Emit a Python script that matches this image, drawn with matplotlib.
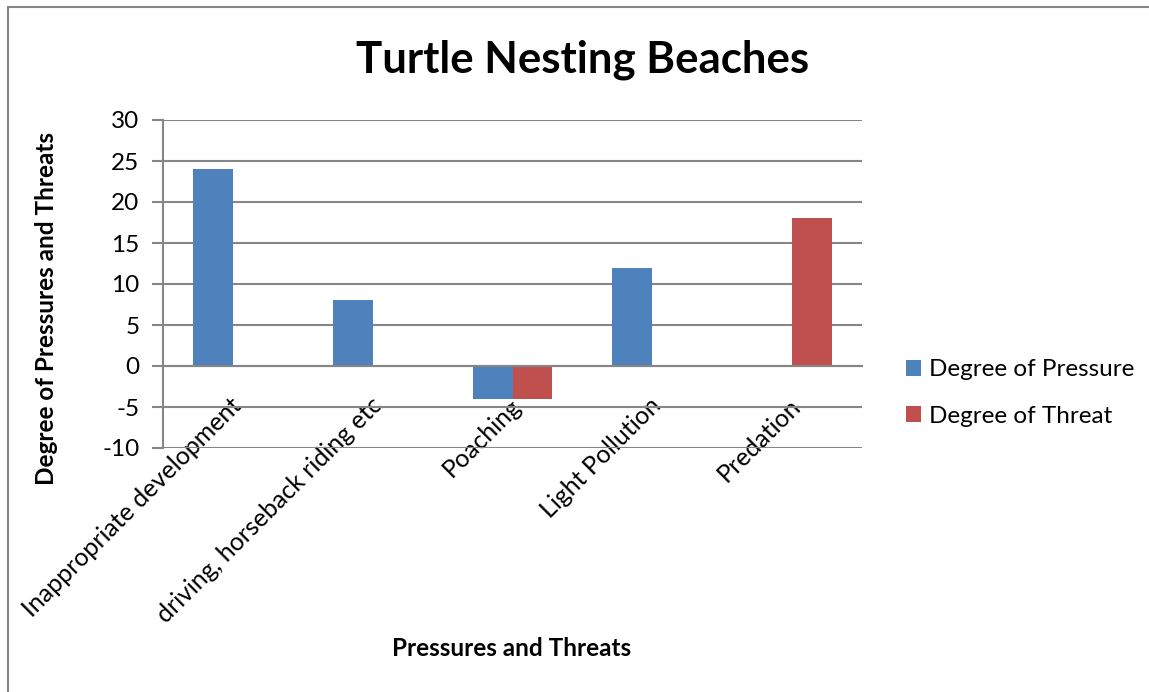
import matplotlib.pyplot as plt
import matplotlib.patches as patches
from matplotlib.transforms import ScaledTranslation
import numpy as np

plt.rcParams['font.family'] = ['Lato', 'DejaVu Sans']
plt.rcParams['axes.unicode_minus'] = False

categories = ['Inappropriate development', 'driving, horseback riding etc',
              'Poaching', 'Light Pollution', 'Predation']
pressure = [24, 8, -4, 12, 0]
threat = [0, 0, -4, 0, 18]
yticks = [-10, -5, 0, 5, 10, 15, 20, 25, 30]

blue = '#4F81BD'
red = '#C0504D'
grid = '#868686'

fig = plt.figure(figsize=(11.49, 6.92), dpi=100)
ax = fig.add_axes([163/1149, 1 - 448/692, 699/1149, 328/692])

x = np.arange(len(categories))
w = 0.286
ax.bar(x - w/2, pressure, w, color=blue, label='Degree of Pressure', zorder=3)
ax.bar(x + w/2, threat, w, color=red, label='Degree of Threat', zorder=3)

ax.set_xlim(-0.5, len(categories) - 0.5)
ax.set_ylim(-10, 30)
ax.set_yticks(yticks)
ax.tick_params(axis='y', length=8, width=1.5, color=grid, pad=9, labelsize=17.5)
ax.yaxis.grid(True, color=grid, linewidth=1.5, zorder=0)
ax.set_axisbelow(True)

# x axis crosses at zero like the excel chart
ax.spines['bottom'].set_position(('data', 0))
ax.spines['bottom'].set_color(grid)
ax.spines['bottom'].set_linewidth(1.5)
ax.spines['bottom'].set_zorder(4)
ax.spines['left'].set_color(grid)
ax.spines['left'].set_linewidth(1.5)
ax.spines['top'].set_visible(False)
ax.spines['right'].set_visible(False)

ax.set_xticks(x)
ax.set_xticklabels(categories, fontsize=18)
ax.tick_params(axis='x', length=0, pad=20)
for lab in ax.get_xticklabels():
    lab.set_rotation(45)
    lab.set_ha('right')
    lab.set_va('top')
    lab.set_rotation_mode('anchor')
    lab.set_transform(lab.get_transform() + ScaledTranslation(-0.03, 0, fig.dpi_scale_trans))

fig.text(583/1149, 1 - 60/692, 'Turtle Nesting Beaches', fontsize=31.5, fontweight='bold',
         ha='center', va='center')
fig.text(512/1149, 1 - 649/692, 'Pressures and Threats', fontsize=17.5, fontweight='bold',
         ha='center', va='center')
fig.text(47/1149, 1 - 308/692, 'Degree of Pressures and Threats', fontsize=17.5,
         fontweight='bold', rotation=90, ha='center', va='center')

ax.legend(loc='center left', bbox_to_anchor=(884/1149, 1 - 393/692),
          bbox_transform=fig.transFigure, frameon=False, fontsize=17.5,
          handlelength=0.62, handleheight=0.62, handletextpad=0.35, labelspacing=1.05)

# outer chart border
fig.add_artist(patches.Rectangle((8/1149, -0.1), 2, (1 - 7/692) + 0.1,
                                 transform=fig.transFigure, fill=False,
                                 edgecolor=grid, linewidth=1.5))

fig.savefig('out.png', dpi=100)
